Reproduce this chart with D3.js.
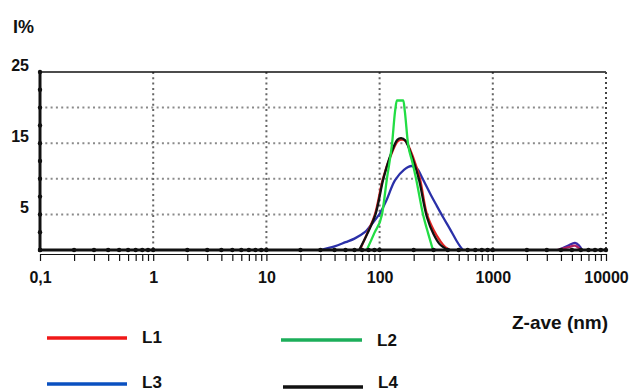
<!DOCTYPE html>
<html>
<head>
<meta charset="utf-8">
<script src="https://cdn.jsdelivr.net/npm/d3@7"></script>
<style>
    body { margin: 0; background: #fff; }
    svg text { font-family: "Liberation Sans", Arial, sans-serif; font-weight: bold; fill: #111; }
    .axis path, .axis line { stroke: #111; }
</style>
</head>
<body>
<div id="chart"></div>
<script>
// size (nm) and intensity (%)
var sizes_L1 = [67, 78, 91, 107, 125, 145, 158, 170, 200, 227, 262, 300, 342, 380, 419];
var values_L1 = [0, 2.4, 5, 10, 13.2, 15.3, 15.5, 15.3, 12.8, 10, 5, 2.8, 1.3, 0.4, 0];
var sizes_L1b = [3700, 4700, 5300, 6000];
var values_L1b = [0, 0.4, 0.6, 0];

var sizes_L2 = [77, 90, 105, 116, 129, 137, 142, 162, 167, 178, 195, 210, 242, 270, 296];
var values_L2 = [0, 2.4, 5, 10, 15, 19.5, 21, 21, 19.5, 15, 12.3, 10, 5, 2.2, 0];

var sizes_L3 = [30, 40, 50, 60, 74, 82, 90, 101, 115, 137, 165, 192, 215, 240, 280, 320, 364, 420, 478, 520, 546];
var values_L3 = [0, 0.5, 1.1, 1.6, 2.5, 3.3, 4.1, 5.2, 7, 9.8, 11.3, 11.8, 11.4, 10, 7.9, 6.2, 4.6, 2.9, 1.3, 0.4, 0];
var sizes_L3b = [3770, 4600, 5320, 5800, 6140];
var values_L3b = [0, 0.6, 1.0, 0.6, 0];

var sizes_L4 = [66, 78, 92, 108, 126, 144, 155, 168, 198, 222, 262, 300, 340, 400];
var values_L4 = [0, 2.3, 5, 10, 13.5, 15.5, 15.7, 15.4, 12.6, 10, 4.6, 2.2, 0.8, 0];

var xTicks = [0.1, 1, 10, 100, 1000, 10000];
var yLabels = [5, 15, 25];
var yGrid = [5, 10, 15, 20];
var xGrid = [1, 10, 100, 1000];

var legendNames = ["L1", "L2", "L3", "L4"];
var legendColors = ["#f01818", "#1cae5a", "#0a50c0", "#111111"];

var width = 629;
var height = 392;
var LEFT = 40, RIGHT = 606, TOP = 72, BOTTOM = 250;

var svg = d3.select("#chart")
    .append("svg")
    .attr("width", width)
    .attr("height", height);

// スケール
var xScale = d3.scaleLog()
    .domain([0.1, 10000])
    .range([LEFT, RIGHT]);

var yScale = d3.scaleLinear()
    .domain([0, 25])
    .range([BOTTOM, TOP]);

// minor positions 0.1,0.2 ... 9000,10000
var minor = [];
for (var e = -1; e < 4; e++) {
    for (var k = 1; k < 10; k++) {
        minor.push(k * Math.pow(10, e));
    }
}
minor.push(10000);

// grid
svg.append("g")
    .selectAll("line")
    .data(yGrid)
    .enter()
    .append("line")
    .attr("x1", LEFT)
    .attr("x2", RIGHT)
    .attr("y1", function (d) { return yScale(d); })
    .attr("y2", function (d) { return yScale(d); })
    .attr("stroke", "#8a8a8a")
    .attr("stroke-width", 2)
    .attr("stroke-dasharray", "2,3.3");

svg.append("g")
    .selectAll("line")
    .data(xGrid)
    .enter()
    .append("line")
    .attr("x1", function (d) { return xScale(d); })
    .attr("x2", function (d) { return xScale(d); })
    .attr("y1", TOP)
    .attr("y2", BOTTOM)
    .attr("stroke", "#666")
    .attr("stroke-width", 2)
    .attr("stroke-dasharray", "2,3.3");

// frame
svg.append("line")
    .attr("x1", LEFT).attr("x2", RIGHT)
    .attr("y1", TOP).attr("y2", TOP)
    .attr("stroke", "#111")
    .attr("stroke-width", 1.5);

svg.append("line")
    .attr("x1", RIGHT).attr("x2", RIGHT)
    .attr("y1", TOP).attr("y2", BOTTOM)
    .attr("stroke", "#444")
    .attr("stroke-width", 2)
    .attr("stroke-dasharray", "2,3");

// curves
var smooth = d3.line()
    .x(function (d) { return xScale(d[0]); })
    .y(function (d) { return yScale(d[1]); })
    .curve(d3.curveCatmullRom.alpha(0.5));

var flat = d3.line()
    .x(function (d) { return xScale(d[0]); })
    .y(function (d) { return yScale(d[1]); })
    .curve(d3.curveMonotoneX);

function pairs(s, v) {
    return s.map(function (d, i) { return [d, v[i]]; });
}

var curves = [
    { data: pairs(sizes_L3, values_L3), color: "#2a30a8", line: smooth },
    { data: pairs(sizes_L3b, values_L3b), color: "#3a2aa8", line: smooth },
    { data: pairs(sizes_L1b, values_L1b), color: "#b02060", line: smooth },
    { data: pairs(sizes_L1, values_L1), color: "#e02424", line: smooth },
    { data: pairs(sizes_L4, values_L4), color: "#111111", line: smooth },
    { data: pairs(sizes_L2, values_L2), color: "#22dd44", line: flat }
];

svg.append("g")
    .selectAll("path")
    .data(curves)
    .enter()
    .append("path")
    .attr("d", function (d) { return d.line(d.data); })
    .attr("fill", "none")
    .attr("stroke", function (d) { return d.color; })
    .attr("stroke-width", 2.3)
    .attr("stroke-linejoin", "round");

// thick axes with dots
svg.append("line")
    .attr("x1", LEFT).attr("x2", RIGHT)
    .attr("y1", BOTTOM).attr("y2", BOTTOM)
    .attr("stroke", "#111")
    .attr("stroke-width", 3);

svg.append("line")
    .attr("x1", LEFT).attr("x2", LEFT)
    .attr("y1", TOP).attr("y2", BOTTOM + 1.5)
    .attr("stroke", "#111")
    .attr("stroke-width", 3);

svg.append("g")
    .selectAll("circle")
    .data(minor)
    .enter()
    .append("circle")
    .attr("cx", function (d) { return xScale(d); })
    .attr("cy", BOTTOM)
    .attr("r", 2.2)
    .attr("fill", "#111");

svg.append("g")
    .selectAll("circle")
    .data(d3.range(0, 25.1, 2.5))
    .enter()
    .append("circle")
    .attr("cx", LEFT)
    .attr("cy", function (d) { return yScale(d); })
    .attr("r", 2.2)
    .attr("fill", "#111");

// X 軸
var locale = d3.formatLocale({ decimal: ",", thousands: "", grouping: [3], currency: ["", ""] });
var fmt = locale.format("~g");

var xAxisMinor = d3.axisBottom(xScale)
    .tickValues(minor)
    .tickSize(7)
    .tickSizeOuter(0)
    .tickFormat("");

svg.append("g")
    .attr("class", "axis")
    .attr("transform", "translate(0," + (BOTTOM + 4) + ")")
    .call(xAxisMinor)
    .selectAll("line, path")
    .attr("stroke-width", 1.2);

var xAxis = d3.axisBottom(xScale)
    .tickValues(xTicks)
    .tickSize(0)
    .tickPadding(18)
    .tickFormat(fmt);

var gx = svg.append("g")
    .attr("transform", "translate(0," + (BOTTOM + 4) + ")")
    .call(xAxis);
gx.select(".domain").remove();
gx.selectAll("text").style("font-size", "16px");

// Y 軸
var yAxis = d3.axisLeft(yScale)
    .tickValues(yLabels)
    .tickSize(0)
    .tickPadding(11);

var gy = svg.append("g")
    .attr("transform", "translate(" + LEFT + ",0)")
    .call(yAxis);
gy.select(".domain").remove();
gy.selectAll("text")
    .attr("dy", "-0.1em")
    .style("font-size", "16px");

// titles
svg.append("text")
    .text("I%")
    .attr("x", 13)
    .attr("y", 33)
    .style("font-size", "18px");

svg.append("text")
    .text("Z-ave (nm)")
    .attr("x", 512)
    .attr("y", 329)
    .style("font-size", "19px");

// legend
var legendPos = [[47, 127, 338, 343], [281, 362, 340, 346], [47, 127, 384, 388], [283, 363, 387, 388]];
var legend = svg.append("g")
    .selectAll("g")
    .data(legendNames)
    .enter()
    .append("g");

legend.append("line")
    .attr("x1", function (d, i) { return legendPos[i][0]; })
    .attr("x2", function (d, i) { return legendPos[i][1]; })
    .attr("y1", function (d, i) { return legendPos[i][2]; })
    .attr("y2", function (d, i) { return legendPos[i][2]; })
    .attr("stroke", function (d, i) { return legendColors[i]; })
    .attr("stroke-width", 3.5);

legend.append("text")
    .text(function (d) { return d; })
    .attr("x", function (d, i) { return legendPos[i][1] + 15; })
    .attr("y", function (d, i) { return legendPos[i][3]; })
    .style("font-size", "17px");
</script>
</body>
</html>
